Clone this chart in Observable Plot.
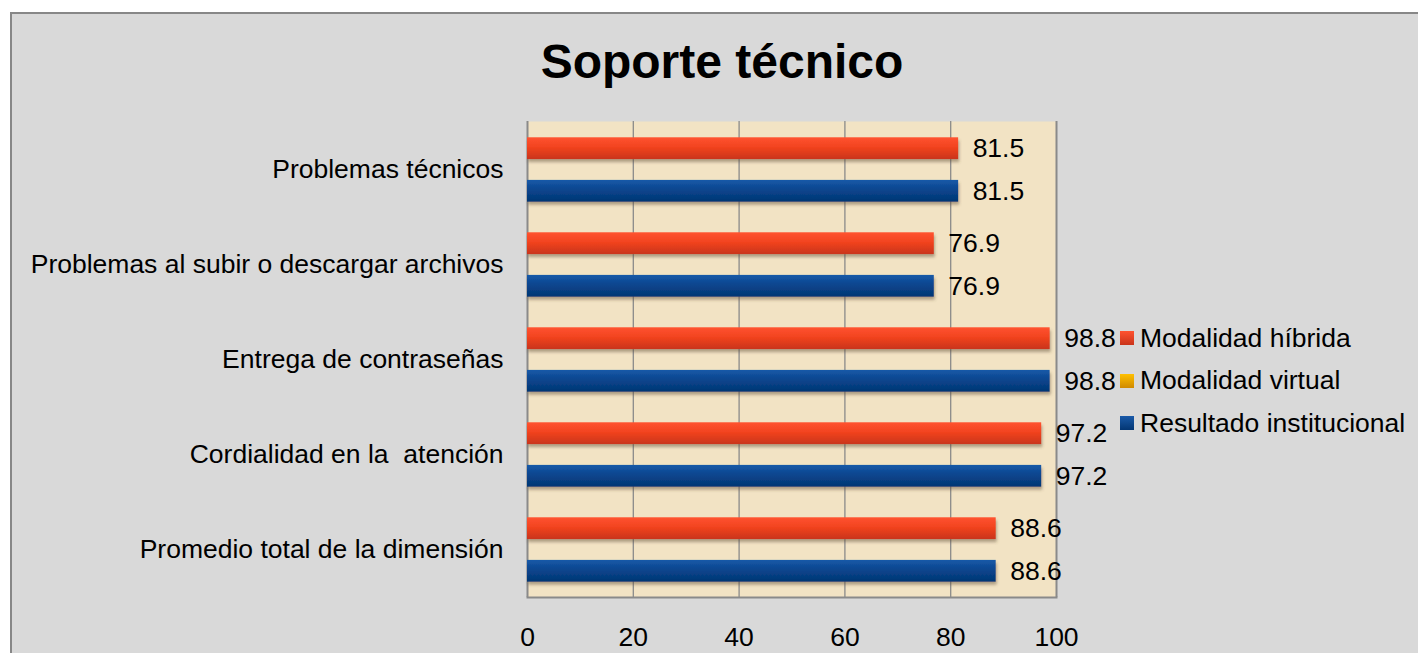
<!DOCTYPE html>
<html>
<head>
<meta charset="utf-8">
<script src="https://cdn.jsdelivr.net/npm/d3@7"></script>
<script src="https://cdn.jsdelivr.net/npm/@observablehq/plot@0.6"></script>
<style>
  body { margin: 0; background: #ffffff; font-family: "Liberation Sans", Arial, sans-serif; }
  #box { position: absolute; left: 10px; top: 12px; width: 1420px; height: 660px; background: #d9d9d9;
         border-left: 2px solid #878787; border-top: 2px solid #878787; }
  #chart { position: absolute; left: 0; top: 0; }
  #chart svg text { white-space: pre; }
  #title { position: absolute; left: 322px; top: 38px; width: 800px; text-align: center;
           font-size: 48px; line-height: 48px; font-weight: bold; color: #000; }
  .leg { position: absolute; left: 1120px; height: 42px; display: flex; align-items: center;
         font-size: 26.5px; color: #000; white-space: nowrap; }
  .sw { width: 14px; height: 14px; margin-right: 6px; }
</style>
</head>
<body>
<div id="box"></div>
<div id="chart"></div>
<div id="title">Soporte técnico</div>
<div id="legend"></div>
<script>
const categories = [
  "Problemas técnicos",
  "Problemas al subir o descargar archivos",
  "Entrega de contraseñas",
  "Cordialidad en la  atención",
  "Promedio total de la dimensión"
];
const seriesNames = ["Modalidad híbrida", "Modalidad virtual", "Resultado institucional"];
const hibridaValues = [81.5, 76.9, 98.8, 97.2, 88.6];
const virtualValues = [null, null, null, null, null];
const institucionalValues = [81.5, 76.9, 98.8, 97.2, 88.6];
const xTicks = [0, 20, 40, 60, 80, 100];

const hib = categories.map((c, i) => ({category: c, value: hibridaValues[i]})).filter(d => d.value != null);
const vir = categories.map((c, i) => ({category: c, value: virtualValues[i]})).filter(d => d.value != null);
const ins = categories.map((c, i) => ({category: c, value: institucionalValues[i]})).filter(d => d.value != null);

const barInset = 36.6;
const off = 21.3;
const fs = 26.5;

const svg = Plot.plot({
  width: 1418,
  height: 653,
  marginLeft: 527,
  marginRight: 362,
  marginTop: 121,
  marginBottom: 56,
  style: {background: "transparent", fontFamily: "Liberation Sans, Arial, sans-serif", fontSize: fs + "px", color: "#000"},
  x: {domain: [0, 100], label: null},
  y: {domain: categories, padding: 0, label: null},
  marks: [
    Plot.frame({fill: "#f2e3c4", stroke: null}),
    Plot.ruleX(xTicks.filter(t => t > 0 && t < 100), {stroke: "#8a8a8a", strokeWidth: 1.3}),
    Plot.ruleX([0, 100], {stroke: "#8a8a8a", strokeWidth: 2}),
    Plot.frame({anchor: "bottom", stroke: "#8a8a8a", strokeWidth: 2}),
    Plot.barX(hib, {x: "value", y: "category", fill: "url(#gradRed)", insetTop: barInset, insetBottom: barInset, dy: -off}),
    Plot.barX(vir, {x: "value", y: "category", fill: "url(#gradGold)", insetTop: barInset, insetBottom: barInset}),
    Plot.barX(ins, {x: "value", y: "category", fill: "url(#gradBlue)", insetTop: barInset, insetBottom: barInset, dy: off}),
    Plot.text(hib, {x: "value", y: "category", text: d => d.value.toFixed(1), dx: 14, dy: -off, textAnchor: "start", fontSize: fs, fill: "#000"}),
    Plot.text(ins, {x: "value", y: "category", text: d => d.value.toFixed(1), dx: 14, dy: off, textAnchor: "start", fontSize: fs, fill: "#000"}),
    Plot.axisX({ticks: xTicks, tickSize: 0, tickPadding: 30, fontSize: fs, tickFormat: d => String(d), label: null}),
    Plot.axisY({tickSize: 0, tickPadding: 24, fontSize: fs, label: null})
  ]
});

svg.insertAdjacentHTML("afterbegin", `
<defs>
  <linearGradient id="gradRed" x1="0" y1="0" x2="0" y2="1">
    <stop offset="0" stop-color="#ff5330"/>
    <stop offset="0.45" stop-color="#f2431f"/>
    <stop offset="1" stop-color="#c9341a"/>
  </linearGradient>
  <linearGradient id="gradGold" x1="0" y1="0" x2="0" y2="1">
    <stop offset="0" stop-color="#ffc000"/>
    <stop offset="1" stop-color="#d08a00"/>
  </linearGradient>
  <linearGradient id="gradBlue" x1="0" y1="0" x2="0" y2="1">
    <stop offset="0" stop-color="#1a5aa8"/>
    <stop offset="0.4" stop-color="#0a4791"/>
    <stop offset="1" stop-color="#033673"/>
  </linearGradient>
  <filter id="shadow" x="-5%" y="-50%" width="110%" height="220%">
    <feDropShadow dx="1" dy="3" stdDeviation="1.6" flood-color="#5a4a30" flood-opacity="0.45"/>
  </filter>
</defs>`);
svg.querySelectorAll('g[aria-label="bar"]').forEach(g => g.setAttribute("filter", "url(#shadow)"));
document.getElementById("chart").appendChild(svg);

const legendColors = [
  "linear-gradient(#ff5330, #c9341a)",
  "linear-gradient(#ffc000, #d08a00)",
  "linear-gradient(#1a5aa8, #033673)"
];
const legendCenters = [338, 380.5, 423];
const legend = document.getElementById("legend");
seriesNames.forEach((name, i) => {
  const row = document.createElement("div");
  row.className = "leg";
  row.style.top = (legendCenters[i] - 21) + "px";
  row.innerHTML = `<div class="sw" style="background:${legendColors[i]}"></div><span>${name}</span>`;
  legend.appendChild(row);
});
</script>
</body>
</html>
